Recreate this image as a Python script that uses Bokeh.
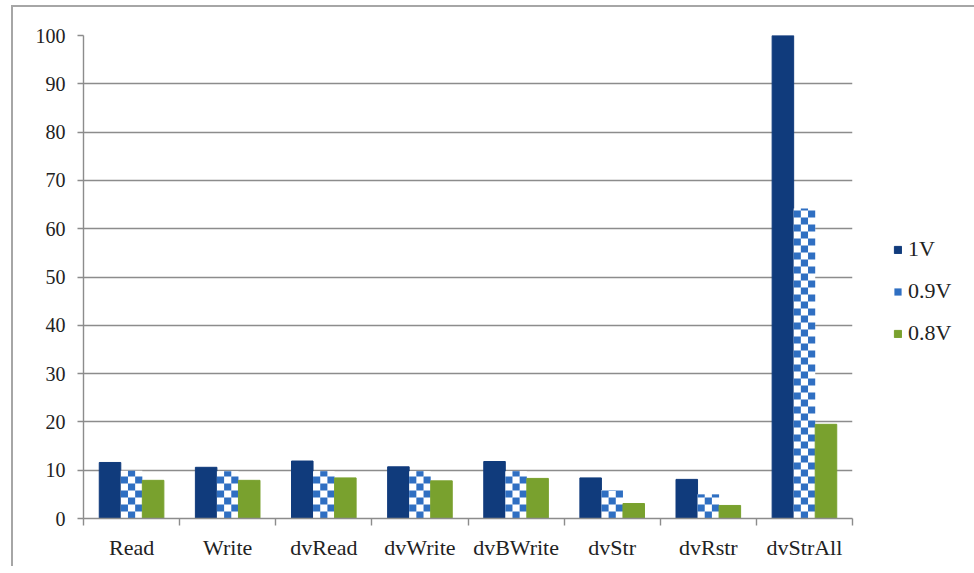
from bokeh.plotting import figure
from bokeh.models import (ColumnDataSource, FixedTicker, Legend, LegendItem,
                          Range1d)
from bokeh.embed import file_html
from bokeh.resources import INLINE

# Operations and relative values per supply voltage
categories = ["Read", "Write", "dvRead", "dvWrite", "dvBWrite", "dvStr", "dvRstr", "dvStrAll"]
v1_0 = [11.6, 10.6, 11.9, 10.7, 11.8, 8.4, 8.1, 100.0]
v0_9 = [9.9, 9.8, 9.8, 9.8, 9.8, 5.9, 5.0, 64.2]
v0_8 = [7.9, 7.9, 8.4, 7.8, 8.3, 3.1, 2.7, 19.5]
y_ticks = [0, 10, 20, 30, 40, 50, 60, 70, 80, 90, 100]

FONT = "Liberation Serif"
GRAY = "#8c8c8c"
BLUE_DARK = "#103b7c"
BLUE_CHECK = "#2f6fc2"
GREEN = "#79a12e"
BAR_W = 0.224
FRAME_W, FRAME_H = 769, 483

centers = [i + 0.5 for i in range(len(categories))]
src = ColumnDataSource(dict(
    x1=[c - BAR_W for c in centers], x2=centers, x3=[c + BAR_W for c in centers],
    v1=v1_0, v2=v0_9, v3=v0_8,
))

# checkerboard squares filling the 0.9V bars (about 7px cells)
cell_w = BAR_W / 3
cell_h = 7 * 100 / FRAME_H
cx, cy, cw, ch = [], [], [], []
for c, v in zip(centers, v0_9):
    row = 0
    y0 = 0.0
    while y0 < v:
        h = min(cell_h, v - y0)
        for col in range(3):
            if (row + col) % 2 == 1:
                cx.append(c - BAR_W / 2 + (col + 0.5) * cell_w)
                cy.append(y0 + h / 2)
                cw.append(cell_w)
                ch.append(h)
        y0 += cell_h
        row += 1
checks = ColumnDataSource(dict(x=cx, y=cy, w=cw, h=ch))

p = figure(frame_width=FRAME_W, frame_height=FRAME_H, output_backend="svg",
           toolbar_location=None,
           x_range=Range1d(0, len(categories)), y_range=Range1d(0, 100),
           min_border_left=70, min_border_top=28, min_border_bottom=48,
           min_border_right=10,
           styles={"margin-left": "11px", "margin-top": "5px",
                   "border-left": "2px solid #a6a6a6", "border-top": "2px solid #a6a6a6"})
p.outline_line_color = None
p.background_fill_color = "white"
p.border_fill_color = "white"

r1 = p.vbar(x="x1", top="v1", width=BAR_W, source=src,
            fill_color=BLUE_DARK, line_color=BLUE_DARK)
r2 = p.vbar(x="x2", top="v2", width=BAR_W, source=src,
            fill_color="white", line_color=None)
r2c = p.rect(x="x", y="y", width="w", height="h", source=checks,
             fill_color=BLUE_CHECK, line_color=None)
r3 = p.vbar(x="x3", top="v3", width=BAR_W, source=src,
            fill_color=GREEN, line_color=GREEN)

# horizontal gridlines only
p.xgrid.grid_line_color = None
p.ygrid.grid_line_color = GRAY
p.ygrid.grid_line_width = 1.4
p.ygrid.ticker = FixedTicker(ticks=y_ticks)
p.ygrid.level = "underlay"

# category labels at centers, tick marks at group boundaries
p.xaxis.ticker = FixedTicker(ticks=centers, minor_ticks=list(range(len(categories) + 1)))
p.xaxis.major_label_overrides = {c: name for c, name in zip(centers, categories)}
p.xaxis.major_tick_line_color = None
p.xaxis.major_tick_out = 0
p.xaxis.minor_tick_line_color = GRAY
p.xaxis.minor_tick_out = 7
p.xaxis.minor_tick_in = 0
p.xaxis.minor_tick_line_width = 1.4
p.xaxis.major_label_standoff = 9
p.xaxis.major_label_text_font_size = "22px"

p.yaxis.ticker = FixedTicker(ticks=y_ticks)
p.yaxis.minor_tick_line_color = None
p.yaxis.major_tick_out = 6
p.yaxis.major_tick_in = 0
p.yaxis.major_tick_line_color = GRAY
p.yaxis.major_tick_line_width = 1.4
p.yaxis.major_label_standoff = 12
p.yaxis.major_label_text_font_size = "20px"

for ax in (p.xaxis[0], p.yaxis[0]):
    ax.axis_line_color = GRAY
    ax.axis_line_width = 1.4
    ax.major_label_text_font = FONT
    ax.major_label_text_color = "#222222"

legend = Legend(items=[LegendItem(label="1V", renderers=[r1]),
                       LegendItem(label="0.9V", renderers=[r2, r2c]),
                       LegendItem(label="0.8V", renderers=[r3])],
                location=(41, 172), orientation="vertical",
                glyph_width=9, glyph_height=9, label_height=20, spacing=16,
                label_standoff=6, padding=4, margin=0,
                label_text_font=FONT, label_text_font_size="22px",
                label_text_color="#222222",
                border_line_color=None, background_fill_alpha=0)
p.add_layout(legend, "right")

open("out.html", "w").write(file_html(p, INLINE))
